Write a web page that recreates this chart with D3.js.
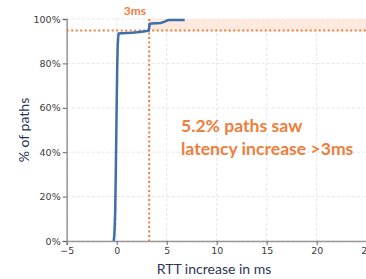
<!DOCTYPE html>
<html>
<head>
<meta charset="utf-8">
<script src="https://cdn.jsdelivr.net/npm/d3@7"></script>
<style>
  body { margin: 0; background: #fff; }
  svg { display: block; }
</style>
</head>
<body>
<svg width="366" height="279"></svg>
<script>
// CDF of RTT increase (ms, fraction of paths)
const rttMs = [-0.3, -0.25, -0.2, -0.15, -0.1, -0.05, 0.0, 0.05, 0.1, 0.15, 0.2, 0.5, 1.0, 1.5, 2.0, 2.5, 3.0, 3.2, 3.3, 3.5, 4.0, 4.4, 4.8, 5.1, 5.3, 6.0, 6.8];
const cdfPct = [0, 2, 6, 14, 28, 45, 62, 78, 88, 92, 93.5, 93.6, 93.7, 93.8, 94.0, 94.3, 94.6, 94.8, 97.8, 98.0, 98.1, 98.2, 98.8, 99.4, 99.5, 99.6, 99.6];
const xTicks = [-5, 0, 5, 10, 15, 20, 25];
const yTicks = [0, 20, 40, 60, 80, 100];
const thresholdMs = 3.25;
const thresholdPct = 94.8;
const noteLines = ["5.2% paths saw", "latency increase >3ms"];

const orange = "#ef7d3c";
const blue = "#3d6fa8";
const navy = "#2a3557";

const svg = d3.select("svg");
const x = d3.scaleLinear().domain([-5, 25]).range([66.7, 366.7]);
const y = d3.scaleLinear().domain([0, 100]).range([241, 19]);

// grid
svg.append("g").selectAll("line").data(xTicks).join("line")
  .attr("x1", d => x(d)).attr("x2", d => x(d))
  .attr("y1", y(0)).attr("y2", y(100))
  .attr("stroke", "#e6e6e6").attr("stroke-dasharray", "3,2");
svg.append("g").selectAll("line").data(yTicks).join("line")
  .attr("x1", x(-5)).attr("x2", 366)
  .attr("y1", d => y(d)).attr("y2", d => y(d))
  .attr("stroke", "#e6e6e6").attr("stroke-dasharray", "3,2");

// shaded band above threshold
svg.append("rect")
  .attr("x", x(thresholdMs)).attr("y", y(100))
  .attr("width", 366 - x(thresholdMs)).attr("height", y(thresholdPct) - y(100))
  .attr("fill", "#fde9dd");

// axes
const xAxis = svg.append("g").attr("transform", `translate(0,${y(0)})`)
  .call(d3.axisBottom(x).tickValues(xTicks).tickSize(4).tickPadding(2).tickFormat(d => d < 0 ? "\u2212" + Math.abs(d) : d));
const yAxis = svg.append("g").attr("transform", `translate(${x(-5)},0)`)
  .call(d3.axisLeft(y).tickValues(yTicks).tickSize(4).tickPadding(2).tickFormat(d => d + "%"));
[xAxis, yAxis].forEach(a => {
  a.select(".domain").attr("stroke", "#999").attr("stroke-width", 1.5);
  a.selectAll(".tick line").attr("stroke", "#666");
  a.selectAll(".tick text").attr("fill", "#3a3a3a")
    .style("font-family", "DejaVu Sans").style("font-size", "9.5px");
});

// threshold lines
svg.append("line")
  .attr("x1", x(-5)).attr("x2", 366)
  .attr("y1", y(thresholdPct)).attr("y2", y(thresholdPct))
  .attr("stroke", orange).attr("stroke-width", 2).attr("stroke-dasharray", "2,2.5");
svg.append("line")
  .attr("x1", x(thresholdMs)).attr("x2", x(thresholdMs))
  .attr("y1", y(100)).attr("y2", y(0))
  .attr("stroke", orange).attr("stroke-width", 2).attr("stroke-dasharray", "2,2.5");

// CDF curve
const line = d3.line().x(d => x(d[0])).y(d => y(d[1]));
svg.append("path")
  .datum(d3.zip(rttMs, cdfPct))
  .attr("d", line)
  .attr("fill", "none").attr("stroke", blue).attr("stroke-width", 2.5);

// labels
svg.append("text")
  .attr("x", 135).attr("y", 15)
  .attr("text-anchor", "middle")
  .attr("fill", orange)
  .style("font-family", "Lato").style("font-weight", "bold").style("font-size", "12px")
  .text("3ms");

svg.append("g").selectAll("text").data(noteLines).join("text")
  .attr("x", 181).attr("y", (d, i) => 132 + i * 23)
  .attr("fill", orange)
  .style("font-family", "Lato").style("font-weight", "bold").style("font-size", "17.6px")
  .text(d => d);

svg.append("text")
  .attr("transform", `translate(29,${y(50)}) rotate(-90)`)
  .attr("text-anchor", "middle")
  .attr("fill", navy)
  .style("font-family", "Lato").style("font-size", "14px")
  .text("% of paths");

svg.append("text")
  .attr("x", 214).attr("y", 274)
  .attr("text-anchor", "middle")
  .attr("fill", navy)
  .style("font-family", "Lato").style("font-size", "14px")
  .text("RTT increase in ms");
</script>
</body>
</html>
